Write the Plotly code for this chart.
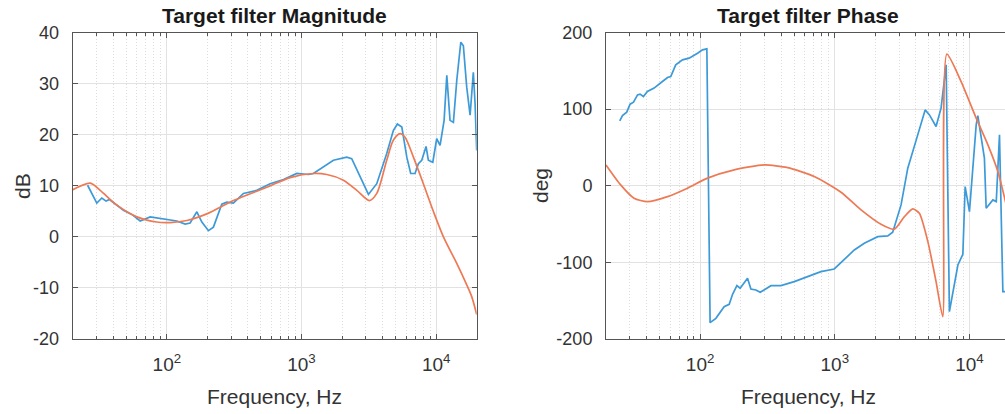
import plotly.graph_objects as go
import math

# ---------------- data ----------------
# Magnitude: target (blue, measured-looking) and fitted filter (orange)
mag_blue_f = [25.8, 30.2, 32.9, 35.4, 37.5, 41.3, 47.6, 55.0, 63.4, 75.2, 89.1, 105.9, 118.6,
              136.8, 148.9, 167.1, 182.0, 203.7, 221.8, 255.9, 278.6, 311.9, 370.7, 465.6,
              584.8, 734.5, 922.6, 1125, 1225, 1726, 2168, 2360, 2723, 3141, 3622, 4295,
              4808, 5152, 5559, 6053, 6471, 6966, 7379, 7816, 8414, 8750, 9441, 10093,
              10691, 11455, 11995, 12677, 13428, 14223, 15241, 15922, 16866, 17865, 18880,
              19454, 20000]
mag_blue_db = [10.1, 6.6, 7.6, 7.0, 7.3, 6.5, 5.2, 4.4, 3.1, 3.9, 3.6, 3.4, 3.1,
               2.5, 2.7, 4.9, 2.9, 1.2, 1.9, 6.4, 6.8, 6.6, 8.5, 9.1,
               10.4, 11.2, 12.4, 12.2, 12.4, 15.0, 15.6, 15.3, 11.7, 8.3, 10.4, 16.3,
               20.8, 22.1, 21.5, 15.6, 12.4, 12.4, 14.3, 15.0, 17.7, 15.0, 14.6, 19.2,
               17.9, 22.8, 31.6, 22.8, 22.4, 30.6, 38.1, 37.4, 29.3, 23.8, 32.2,
               26.0, 16.9]

mag_fit_f = [20, 27, 32, 42.6, 60, 84, 106, 141, 198, 312, 552, 824, 1224, 1542, 2046,
             2576, 3192, 3622, 4295, 4808, 5395, 5875, 6776, 8035, 9528, 11324, 14223,
             16866, 18370, 20000]
mag_fit_db = [9.2, 10.5, 9.1, 6.2, 3.9, 2.9, 2.8, 3.2, 4.5, 7.1, 9.7, 11.6, 12.4, 12.2, 11.1,
              9.1, 7.1, 8.5, 15.0, 18.9, 20.2, 19.5, 15.6, 10.4, 5.0, 0.0, -5.2,
              -9.4, -11.7, -15.2]

# Phase
ph_blue_f = [25.3, 26.5, 28.5, 30.2, 32.0, 34.3, 35.8, 37.9, 40.6, 45.5, 52.5, 57.3, 60.5,
             65.9, 74.0, 82.8, 95.7, 104.2, 112.2, 118.6, 130.9, 150.7, 164.4, 174.2,
             187.5, 198.2, 224.9, 238.2, 259.4, 279.3, 335.7, 398.1, 500, 629.5, 788.9,
             990.8, 1396, 1656, 2084, 2472, 2692, 3105, 3483, 4130, 4688, 5047, 5649,
             6152, 6714, 7096, 7727, 8204, 8933, 9290, 10000, 11220, 11535, 12912,
             13305, 14928, 15812, 16711, 17701, 18750]
ph_blue_deg = [84.7, 91.6, 96.0, 106.5, 109.0, 118.6, 119.5, 116.4, 123.0, 127.4, 136.0, 141.3,
               142.6, 157.8, 164.3, 166.5, 173.0, 177.4, 178.7, -178.7, -173.0, -157.8,
               -154.7, -141.6, -130.4, -133.8, -120.7, -134.7, -136.0, -139.0, -130.4,
               -130.4, -125.1, -118.6, -112.1, -108.6, -83.8, -75.0, -66.4, -65.5, -60.7,
               -25.0, 22.9, 66.4, 99.0, 92.5, 77.3, 101.2, 157.8, -164.3, -129.5, -103.4,
               -89.4, -1.1, -33.8, 79.5, 91.6, 36.0, -29.3, -18.5, -20.7, 66.4, -138.2,
               -138.2]

ph_fit_f = [20, 25.7, 32.3, 40.6, 57.3, 80.5, 113.5, 179.1, 299.2, 446.7, 704.7, 1112,
            1567, 2203, 2767, 3289, 3793, 4246, 4909, 5649, 6339, 6792, 8670, 11220,
            13709, 16255, 18750]
ph_fit_deg = [27.2, 1.1, -16.3, -20.7, -14.2, -3.2, 9.9, 20.7, 27.2, 23.7, 12.0, -8.5,
              -31.5, -50.3, -56.8, -40.3, -30.2, -35.9, -72.9, -125.1, -170.9, 171.7,
              136.0, 88.2, 53.3, 18.5, -25.0]

major_ticks = [100, 1000, 10000]
major_text = ["10<sup>2</sup>", "10<sup>3</sup>", "10<sup>4</sup>"]
minor_ticks = [m * d for d in (10, 100, 1000, 10000) for m in range(2, 10) if m * d <= 20000]
mag_ticks = [-20, -10, 0, 10, 20, 30, 40]
ph_ticks = [-200, -100, 0, 100, 200]

titles = ["Target filter Magnitude", "Target filter Phase"]
xlabel = "Frequency, Hz"
ylabels = ["dB", "deg"]

# ---------------- style ----------------
BLUE = "#3C9AD9"
ORANGE = "#EE7A55"
FONT = "Liberation Sans, Arial, sans-serif"
TXT = "#333333"
AXC = "#555555"
W, H = 1005, 414

fig = go.Figure()
fig.add_trace(go.Scatter(x=mag_blue_f, y=mag_blue_db, mode="lines",
                         line=dict(color=BLUE, width=1.7), xaxis="x", yaxis="y"))
fig.add_trace(go.Scatter(x=mag_fit_f, y=mag_fit_db, mode="lines",
                         line=dict(color=ORANGE, width=1.7, shape="spline", smoothing=0.8),
                         xaxis="x", yaxis="y"))
fig.add_trace(go.Scatter(x=ph_blue_f, y=ph_blue_deg, mode="lines",
                         line=dict(color=BLUE, width=1.7), xaxis="x2", yaxis="y2"))
fig.add_trace(go.Scatter(x=ph_fit_f, y=ph_fit_deg, mode="lines",
                         line=dict(color=ORANGE, width=1.7, shape="spline", smoothing=0.6),
                         xaxis="x2", yaxis="y2"))

ytop, ybot = 32.5, 339.0
ydom = [1 - ybot / H, 1 - ytop / H]
L1, R1 = 72.7, 476.7
L2 = 606.0
dec = (R1 - L1) / 3.0
x2_end = math.log10(20) + (W - L2) / dec


def xaxis_cfg(dom, rng, anchor, mirror):
    return dict(type="log", domain=dom, range=rng, anchor=anchor, automargin=False,
                tickmode="array", tickvals=major_ticks, ticktext=major_text,
                ticks="inside", ticklen=5, tickcolor=AXC, tickwidth=1,
                showline=True, linecolor=AXC, linewidth=1, mirror=mirror,
                showgrid=True, gridcolor="#e2e2e2", gridwidth=1,
                minor=dict(tickmode="array", tickvals=minor_ticks, ticks="inside",
                           ticklen=3, tickcolor=AXC, showgrid=True,
                           gridcolor="#dcdcdc", griddash="1px,2px", gridwidth=1),
                tickfont=dict(family=FONT, size=19, color=TXT),
                ticklabelstandoff=8, zeroline=False, fixedrange=True)


def yaxis_cfg(dom, rng, vals, anchor, mirror):
    return dict(domain=dom, range=rng, anchor=anchor, automargin=False,
                tickmode="array", tickvals=vals, ticktext=[str(v) for v in vals],
                ticks="inside", ticklen=5, tickcolor=AXC,
                showline=True, linecolor=AXC, linewidth=1, mirror=mirror,
                showgrid=True, gridcolor="#e2e2e2", gridwidth=1, zeroline=False,
                tickfont=dict(family=FONT, size=18, color=TXT),
                ticklabelstandoff=9, fixedrange=True)


fig.update_layout(
    width=W, height=H, margin=dict(l=0, r=0, t=0, b=0, autoexpand=False),
    paper_bgcolor="white", plot_bgcolor="white", showlegend=False,
    xaxis=xaxis_cfg([L1 / W, R1 / W], [math.log10(20), math.log10(20000)], "y", "allticks"),
    yaxis=yaxis_cfg(ydom, [-20, 40], mag_ticks, "x", "ticks"),
    xaxis2=xaxis_cfg([L2 / W, 1.0], [math.log10(20), x2_end], "y2", "allticks"),
    yaxis2=yaxis_cfg(ydom, [-200, 200], ph_ticks, "x2", False),
)

centers = [(L1 + R1) / 2, L2 + (R1 - L1) / 2]
ann = []
for c, t in zip(centers, titles):
    ann.append(dict(x=c / W, y=1 - 16 / H, xref="paper", yref="paper", text="<b>" + t + "</b>",
                    showarrow=False, xanchor="center", yanchor="middle",
                    font=dict(family=FONT, size=21, color="#1a1a1a")))
    ann.append(dict(x=c / W, y=1 - 396 / H, xref="paper", yref="paper", text=xlabel,
                    showarrow=False, xanchor="center", yanchor="middle",
                    font=dict(family=FONT, size=21, color=TXT)))
for xc, t in zip([22, 540], ylabels):
    ann.append(dict(x=xc / W, y=1 - 186 / H, xref="paper", yref="paper", text=t, textangle=-90,
                    showarrow=False, xanchor="center", yanchor="middle",
                    font=dict(family=FONT, size=21, color=TXT)))
fig.update_layout(annotations=ann)

fig.write_html("out.html")
